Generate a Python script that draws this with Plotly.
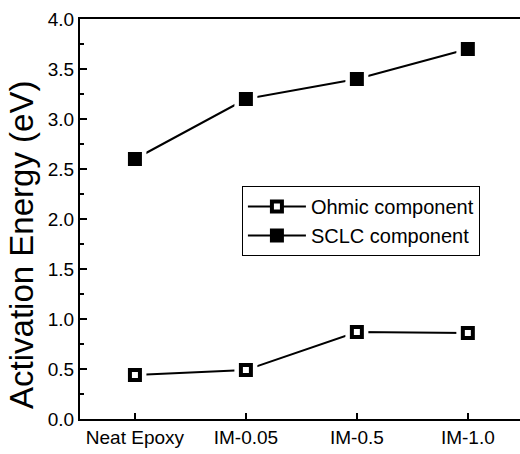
import plotly.graph_objects as go

categories = ["Neat Epoxy", "IM-0.05", "IM-0.5", "IM-1.0"]
ohmic = [0.44, 0.49, 0.87, 0.86]
sclc = [2.60, 3.20, 3.40, 3.70]
series_names = ["Ohmic component", "SCLC component"]
y_tick_vals = [0.0, 0.5, 1.0, 1.5, 2.0, 2.5, 3.0, 3.5, 4.0]
y_tick_text = ["0.0", "0.5", "1.0", "1.5", "2.0", "2.5", "3.0", "3.5", "4.0"]
y_title = "Activation Energy (eV)"

REG = "Liberation Sans, Arial, sans-serif"

open_marker = dict(symbol="square", size=10, color="white", line=dict(color="black", width=4))
filled_marker = dict(symbol="square", size=14, color="black", line=dict(color="black", width=0))

fig = go.Figure()
fig.add_trace(go.Scatter(x=categories, y=ohmic, mode="lines+markers", name=series_names[0],
                         line=dict(color="black", width=2), marker=open_marker))
fig.add_trace(go.Scatter(x=categories, y=sclc, mode="lines+markers", name=series_names[1],
                         line=dict(color="black", width=2), marker=filled_marker))
for ys in (ohmic, sclc):
    fig.add_trace(go.Scatter(x=categories, y=ys, mode="markers", showlegend=False, hoverinfo="skip",
                             marker=dict(symbol="square", size=23, color="white", line=dict(width=0))))
fig.add_trace(go.Scatter(x=categories, y=ohmic, mode="markers", showlegend=False, marker=open_marker))
fig.add_trace(go.Scatter(x=categories, y=sclc, mode="markers", showlegend=False, marker=filled_marker))

fig.update_layout(
    width=520, height=454,
    margin=dict(l=80, r=0, t=19, b=35),
    paper_bgcolor="white", plot_bgcolor="white",
    font=dict(family=REG, color="black", size=19),
    legend=dict(x=0.368, y=0.5825, xanchor="left", yanchor="top",
                bordercolor="black", borderwidth=1, bgcolor="white",
                font=dict(family=REG, size=20), itemwidth=58, tracegroupgap=0),
    annotations=[dict(text=y_title, xref="paper", yref="paper", x=-0.132, y=0.435,
                      xanchor="center", yanchor="middle", textangle=-90, showarrow=False,
                      font=dict(family=REG, size=33, color="black"))],
)
fig.update_xaxes(
    type="category", range=[-0.495, 3.47],
    showline=True, linecolor="black", linewidth=2, mirror=True,
    ticks="inside", ticklen=6, tickwidth=2, tickcolor="black",
    showgrid=False, zeroline=False,
    tickfont=dict(family=REG, size=19),
)
fig.update_yaxes(
    range=[0, 4], tickvals=y_tick_vals, ticktext=y_tick_text,
    showline=True, linecolor="black", linewidth=2, mirror=False,
    ticks="inside", ticklen=7, tickwidth=2, tickcolor="black",
    minor=dict(ticks="inside", ticklen=4, tickwidth=2, tickcolor="black", dtick=0.25, showgrid=False),
    showgrid=False, zeroline=False,
    tickfont=dict(family=REG, size=19),
)

fig.write_html("out.html")
